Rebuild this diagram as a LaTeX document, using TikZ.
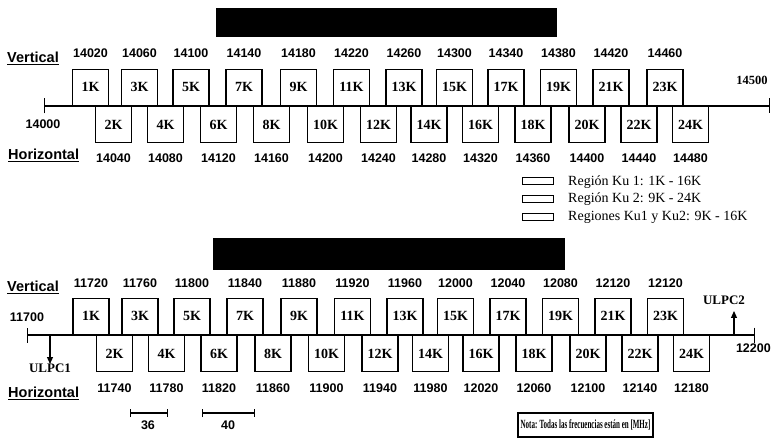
\documentclass[tikz,border=0pt]{standalone}
\usepackage{fontspec}
\setmainfont{Liberation Serif}
\newfontfamily\sansnum{Liberation Sans}
\usetikzlibrary{arrows.meta}
\begin{document}
\begin{tikzpicture}[x=1pt,y=-1pt,
  kbox/.style={draw,line width=1.4pt,minimum width=36pt,minimum height=36pt,inner sep=0pt,font=\fontsize{14}{15}\selectfont\bfseries},
  num/.style={inner sep=0pt,font=\sansnum\fontsize{12.5}{13}\selectfont\bfseries},
  serifnum/.style={inner sep=0pt,font=\fontsize{12.5}{13}\selectfont\bfseries},
  axislbl/.style={inner sep=0pt,anchor=west,font=\sansnum\fontsize{14.5}{16}\selectfont\bfseries},
  axisline/.style={line width=1.4pt,{Bar[width=15pt,line width=1.4pt]}-{Bar[width=15pt,line width=1.4pt]}},
  titlebar/.style={fill=black,inner sep=0pt},
  legbox/.style={draw,line width=1pt,minimum width=31pt,minimum height=7pt,inner sep=0pt},
  legtext/.style={inner sep=0pt,anchor=west,font=\fontsize{14}{15}\selectfont},
  ulpc/.style={inner sep=0pt,font=\fontsize{13}{14}\selectfont\bfseries},
  ularrow/.style={line width=1.2pt,-{Triangle[length=7pt,width=6pt]}},
  scalebar/.style={line width=1.2pt,{Bar[width=8pt,line width=1.2pt]}-{Bar[width=8pt,line width=1.2pt]}},
  notebox/.style={draw,line width=1.1pt,minimum width=135pt,minimum height=24pt,inner sep=0pt,font=\fontsize{12.5}{13}\selectfont\bfseries}
]
\useasboundingbox (0,0) rectangle (771,438);

% ================= TOP DIAGRAM =================
\node[titlebar,minimum width=341pt,minimum height=29pt] (bar1) at (386.5,22.5) {};

\node[axislbl] (vert1) at (7,58) {\underline{Vertical}};
\node[axislbl] (hor1) at (8,155) {\underline{Horizontal}};

\coordinate (a1L) at (44,106);
\coordinate (a1R) at (770,106);
\draw[axisline] (a1L) -- (a1R);

\node[num] (n14000) at (43,124) {14000};
\node[serifnum] (n14500) at (752,80) {14500};

\foreach \lab/\x/\f in {1K/90.5/14020,3K/139.5/14060,5K/191/14100,7K/244/14140,9K/298.5/14180,11K/351.5/14220,13K/404/14260,15K/454.5/14300,17K/506/14340,19K/558.5/14380,21K/611/14420,23K/665/14460}{
  \node[kbox,anchor=south] (t\lab) at (\x,106) {\lab};
  \node[num] (tn\lab) at (\x,53) {\f};
}
\foreach \lab/\x/\f in {2K/113.5/14040,4K/165.5/14080,6K/218.5/14120,8K/271.5/14160,10K/325.5/14200,12K/378.5/14240,14K/429/14280,16K/480.5/14320,18K/533/14360,20K/587/14400,22K/639/14440,24K/690.5/14480}{
  \node[kbox,anchor=north] (t\lab) at (\x,106) {\lab};
  \node[num] (tn\lab) at (\x,158) {\f};
}

% legend
\node[legbox] (lb1) at (537.5,181) {};
\node[legbox] (lb2) at (537.5,199) {};
\node[legbox] (lb3) at (537.5,217) {};
\node[legtext] (lt1) at (568,182) {Región Ku 1: 1K - 16K};
\node[legtext] (lt2) at (568,199.5) {Región Ku 2: 9K - 24K};
\node[legtext] (lt3) at (568,217) {Regiones Ku1 y Ku2: 9K - 16K};

% ================= BOTTOM DIAGRAM =================
\node[titlebar,minimum width=352pt,minimum height=32pt] (bar2) at (389,254) {};

\node[axislbl] (vert2) at (7,287) {\underline{Vertical}};
\node[axislbl] (hor2) at (8,393) {\underline{Horizontal}};

\coordinate (a2L) at (27,335);
\coordinate (a2R) at (755,335);
\draw[axisline] (a2L) -- (a2R);

\node[num] (n11700) at (27,317) {11700};
\node[num,anchor=east] (n12200) at (771,348) {12200};

\foreach \lab/\x/\f in {1K/91/11720,3K/140/11760,5K/192/11800,7K/245/11840,9K/299/11880,11K/352.5/11920,13K/405/11960,15K/455.5/12000,17K/508/12040,19K/560.5/12080,21K/613/12120,23K/665.5/12120}{
  \node[kbox,anchor=south] (b\lab) at (\x,335) {\lab};
  \node[num] (bn\lab) at (\x,283) {\f};
}
\foreach \lab/\x/\f in {2K/114.5/11740,4K/166.5/11780,6K/219/11820,8K/273/11860,10K/326.5/11900,12K/380/11940,14K/430.5/11980,16K/481/12020,18K/534/12060,20K/588/12100,22K/640/12140,24K/691.5/12180}{
  \node[kbox,anchor=north] (b\lab) at (\x,335) {\lab};
  \node[num] (bn\lab) at (\x,388) {\f};
}

% ULPC markers
\coordinate (u1base) at (50,335);
\node[ulpc,anchor=north] (ulpc1) at (50,364) {ULPC1};
\draw[ularrow] (u1base) -- (ulpc1.north);
\coordinate (u2base) at (734,335);
\coordinate (u2tip) at (734,311);
\node[ulpc] (ulpc2) at (724,300) {ULPC2};
\draw[ularrow] (u2base) -- (u2tip);

% scale bars
\coordinate (s36L) at (130,413);
\coordinate (s36R) at (168,413);
\draw[scalebar] (s36L) -- (s36R);
\node[num] (l36) at (148,425) {36};
\coordinate (s40L) at (202,413);
\coordinate (s40R) at (255,413);
\draw[scalebar] (s40L) -- (s40R);
\node[num] (l40) at (228,425) {40};

% note
\node[notebox] (nota) at (585.5,425) {\scalebox{0.56}[1]{Nota: Todas las frecuencias están en [MHz]}};
\end{tikzpicture}
\end{document}
